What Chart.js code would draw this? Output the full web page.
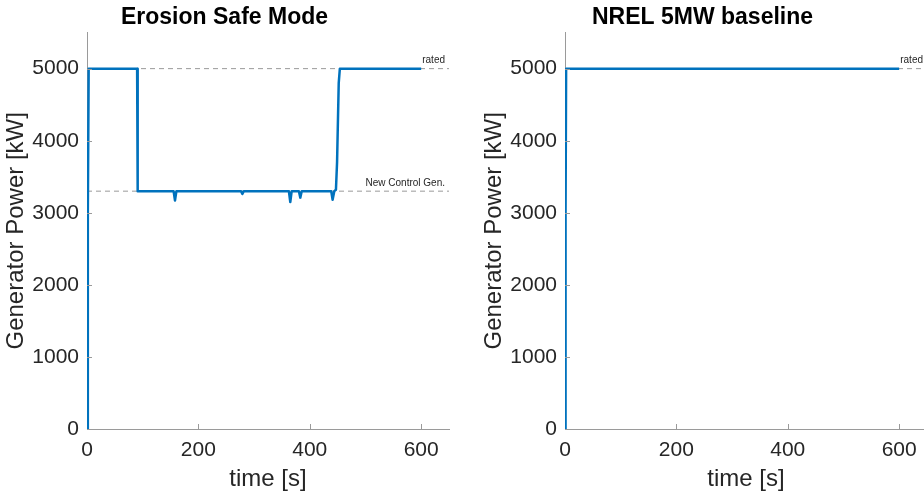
<!DOCTYPE html>
<html>
<head>
<meta charset="utf-8">
<script src="https://cdn.jsdelivr.net/npm/chart.js@4"></script>
<style>
  html, body { margin: 0; padding: 0; background: #fff; overflow: hidden; }
  .panel { position: absolute; top: 0; width: 462px; height: 495px; }
</style>
</head>
<body>
<div class="panel" style="left:0"><canvas id="safeChart"></canvas></div>
<div class="panel" style="left:478px"><canvas id="baseChart"></canvas></div>
<script>
// Erosion Safe Mode: time [s] / generator power [kW]
const safeTime  = [0, 1.5, 3, 90, 91, 155.5, 158, 160.5, 276.5, 279, 281.5, 362.5, 365, 367.5, 380.5, 383, 385.5, 438.5, 441, 444, 447, 449, 452, 454, 600];
const safePower = [0, 3000, 5000, 5000, 3300, 3300, 3170, 3300, 3300, 3260, 3300, 3300, 3150, 3300, 3300, 3210, 3300, 3300, 3180, 3300, 3320, 3700, 4800, 5000, 5000];

// NREL 5MW baseline
const baseTime  = [0, 1, 2, 600];
const basePower = [0, 3000, 5000, 5000];

const ratedPower = 5000;
const newControlPower = 3300;
const xTicks = [0, 200, 400, 600];
const yTicks = [0, 1000, 2000, 3000, 4000, 5000];

const font = 'Liberation Sans, Arial, Helvetica, sans-serif';
const textColor = '#262626';
const axisColor = '#9a9a9a';
const lineBlue = '#0072BD';

const pts = (xs, ys) => xs.map((x, i) => ({ x: x, y: ys[i] }));
const hline = v => [{ x: 0, y: v }, { x: 650, y: v }];

// inward tick marks + reference-line labels
const decor = {
  id: 'decor',
  afterDatasetsDraw(chart, args, opts) {
    const { ctx, chartArea: a, scales: { x, y } } = chart;
    ctx.save();
    ctx.strokeStyle = axisColor;
    ctx.lineWidth = 1;
    ctx.beginPath();
    xTicks.forEach(v => {
      if (v === 0) return;
      const px = Math.round(x.getPixelForValue(v)) + 0.5;
      ctx.moveTo(px, a.bottom); ctx.lineTo(px, a.bottom - 5);
    });
    yTicks.forEach(v => {
      if (v === 0) return;
      const py = Math.round(y.getPixelForValue(v)) + 0.5;
      ctx.moveTo(a.left, py); ctx.lineTo(a.left + 5, py);
    });
    ctx.stroke();
    ctx.fillStyle = textColor;
    ctx.font = '10px ' + font;
    ctx.textAlign = 'right';
    ctx.textBaseline = 'bottom';
    opts.labels.forEach(l => {
      ctx.fillText(l.text, a.right - 4, y.getPixelForValue(l.value) - 3);
    });
    ctx.restore();
  }
};

function makeChart(id, title, data, labels) {
  return new Chart(document.getElementById(id), {
    type: 'line',
    data: {
      datasets: [
        {
          data: data,
          borderColor: lineBlue,
          borderWidth: 2.5,
          borderJoinStyle: 'round',
          pointRadius: 0,
          tension: 0,
          order: 0
        },
        ...labels.map(l => ({
          data: hline(l.value),
          borderColor: axisColor,
          borderWidth: 1,
          borderDash: [5, 4],
          pointRadius: 0,
          order: 1
        }))
      ]
    },
    options: {
      responsive: true,
      maintainAspectRatio: false,
      animation: false,
      layout: { padding: { left: 0, right: 13, top: 0, bottom: 0 } },
      plugins: {
        legend: { display: false },
        tooltip: { enabled: false },
        title: {
          display: true,
          text: title,
          color: '#000',
          font: { family: font, size: 23, weight: 'bold' },
          padding: { top: 4, bottom: 1 }
        },
        decor: { labels: labels }
      },
      scales: {
        x: {
          type: 'linear',
          min: 0,
          max: 650,
          afterFit: s => { s.height = 66; },
          afterBuildTicks: s => { s.ticks = xTicks.map(v => ({ value: v })); },
          grid: { display: true, drawOnChartArea: false, drawTicks: false, color: axisColor },
          border: { color: axisColor },
          ticks: { color: textColor, padding: 9, font: { family: font, size: 21 }, maxRotation: 0, callback: v => String(v) },
          title: { display: true, text: 'time [s]', color: textColor, font: { family: font, size: 24 }, padding: { top: 0, bottom: 1 } }
        },
        y: {
          min: 0,
          max: 5500,
          afterFit: s => { s.width = 87; },
          afterBuildTicks: s => { s.ticks = yTicks.map(v => ({ value: v })); },
          grid: { display: true, drawOnChartArea: false, drawTicks: false, color: axisColor },
          border: { color: axisColor },
          ticks: { color: textColor, padding: 8, font: { family: font, size: 21 }, callback: v => String(v) },
          title: { display: true, text: 'Generator Power [kW]', color: textColor, font: { family: font, size: 24 }, padding: { top: 2, bottom: 0 } }
        }
      }
    },
    plugins: [decor]
  });
}

makeChart('safeChart', 'Erosion Safe Mode', pts(safeTime, safePower), [
  { value: ratedPower, text: 'rated' },
  { value: newControlPower, text: 'New Control Gen.' }
]);
makeChart('baseChart', 'NREL 5MW baseline', pts(baseTime, basePower), [
  { value: ratedPower, text: 'rated' }
]);
</script>
</body>
</html>
